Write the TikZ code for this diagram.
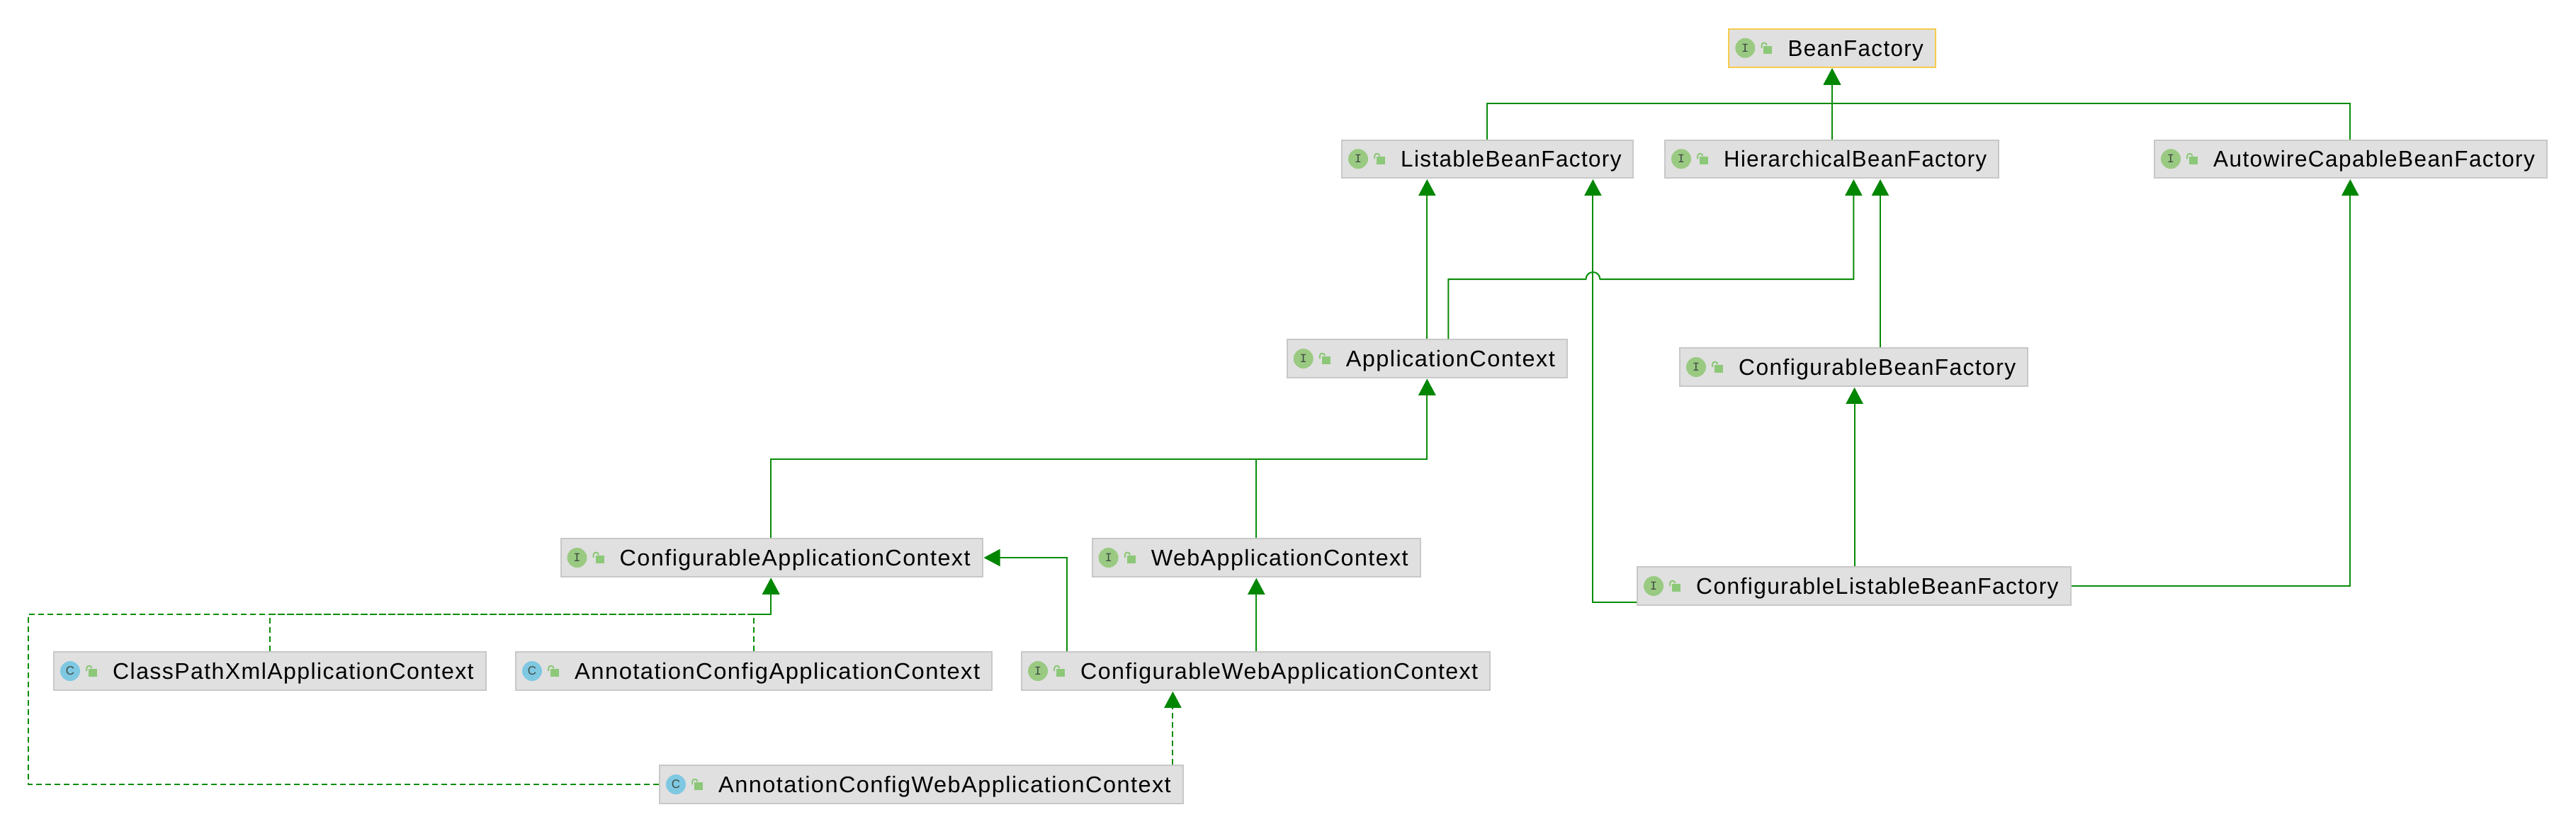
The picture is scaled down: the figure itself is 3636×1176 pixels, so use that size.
\documentclass[tikz,border=0pt]{standalone}
\usepackage{fontspec}
\usepackage{graphicx}
\setmainfont[LetterSpace=4.4]{Liberation Sans}
\newfontfamily\iconmono{Liberation Mono}
\newfontfamily\iconsans{Liberation Sans}
\usetikzlibrary{arrows.meta,calc}
\definecolor{boxfill}{HTML}{E0E0E0}
\definecolor{boxline}{HTML}{C8C8C8}
\definecolor{rootline}{HTML}{F7CB4D}
\definecolor{edge}{HTML}{088C08}
\definecolor{tipc}{HTML}{008600}
\definecolor{ifacec}{HTML}{9ACA82}
\definecolor{classc}{HTML}{7FC8E2}
\definecolor{lockc}{HTML}{8CC878}
\definecolor{glyphc}{HTML}{3F4A44}
\tikzset{
  umlbox/.style={draw=boxline,fill=boxfill,line width=2pt,rectangle,inner sep=0pt,anchor=north west,minimum height=53.5pt},
  umllabel/.style={anchor=base west,inner sep=0pt,font=\fontsize{32}{36}\selectfont,text=black},
  kindglyph/.style={inner sep=0pt,text=glyphc},
  inh/.style={draw=edge,line width=2pt,line join=miter,shorten >=1pt,
    -{Triangle[length=23pt,width=24pt,color=tipc]}},
  impl/.style={inh,dash pattern=on 8pt off 5pt},
}
% #1 extra box style, #2 name, #3 left, #4 top, #5 right, #6 circle colour, #7 text
\newcommand\umlnode[7][]{%
  \node[umlbox,minimum width=#5-#3-2,#1] (#2) at (#3,#4) {};
  \fill[#6] ([xshift=24pt]#2.west) circle[radius=14pt];
  \fill[lockc] ([shift={(50,-3)}]#2.west) rectangle ([shift={(62,8)}]#2.west);
  \draw[lockc,line width=2pt] ([shift={(47.2,0)}]#2.west) -- ([shift={(47.2,-4)}]#2.west)
     .. controls ([shift={(47.2,-8.5)}]#2.west) and ([shift={(54,-8.5)}]#2.west) .. ([shift={(54.5,-4)}]#2.west);
  \pgfmathsetlengthmacro\labw{#5-#3-102}
  \node[umllabel] (#2-label) at ([shift={(84,11.3)}]#2.west) {\resizebox{\labw}{\height}{#7}};
}
\begin{document}
\begin{tikzpicture}[x=1pt,y=-1pt]
\useasboundingbox (0,0) rectangle (3636,1176);
\fill[white] (0,0) rectangle (3636,1176);

\umlnode[draw=rootline]{bf}{2439.3}{40}{2732.7}{ifacec}{BeanFactory}
\umlnode{lbf}{1893}{196.5}{2306.4}{ifacec}{ListableBeanFactory}
\umlnode{hbf}{2349}{196.5}{2822}{ifacec}{HierarchicalBeanFactory}
\umlnode{acbf}{3040}{196.5}{3595.7}{ifacec}{AutowireCapableBeanFactory}
\umlnode{ac}{1815.7}{478.3}{2212.7}{ifacec}{ApplicationContext}
\umlnode{cbf}{2370}{490.3}{2863}{ifacec}{ConfigurableBeanFactory}
\umlnode{cac}{790.5}{759.3}{1387.5}{ifacec}{ConfigurableApplicationContext}
\umlnode{wac}{1540.6}{759.3}{2005.5}{ifacec}{WebApplicationContext}
\umlnode{clbf}{2310}{799.3}{2923.5}{ifacec}{ConfigurableListableBeanFactory}
\umlnode{cpx}{75}{919.3}{686.5}{classc}{ClassPathXmlApplicationContext}
\umlnode{acac}{727}{919.3}{1401}{classc}{AnnotationConfigApplicationContext}
\umlnode{cwac}{1441}{919.3}{2104}{ifacec}{ConfigurableWebApplicationContext}
\umlnode{acwac}{930}{1079.3}{1670.7}{classc}{AnnotationConfigWebApplicationContext}

\foreach \n in {bf,lbf,hbf,acbf,ac,cbf,cac,wac,clbf,cwac}{
  \node[kindglyph,font=\iconmono\fontsize{17}{17}\selectfont] (\n-kind) at ([xshift=24pt]\n.west) {I};
}
\foreach \n in {cpx,acac,acwac}{
  \node[kindglyph,font=\iconsans\fontsize{17}{17}\selectfont] (\n-kind) at ([xshift=24pt]\n.west) {C};
}

% columns and rows of the routed connectors
\coordinate (xlbfup) at (2099,0);
\coordinate (xbf) at (2586,0);
\coordinate (xacbf) at (3317.3,0);
\coordinate (xaclbf) at (2014.3,0);
\coordinate (xachbf) at (2044.3,0);
\coordinate (xhbfa) at (2616.4,0);
\coordinate (xhbfb) at (2654,0);
\coordinate (xclbf) at (2617.6,0);
\coordinate (xjump) at (2248.4,0);
\coordinate (xcac) at (1088.2,0);
\coordinate (xwac) at (1773.3,0);
\coordinate (xcwac) at (1505.5,0);
\coordinate (xcpx) at (381,0);
\coordinate (xacac) at (1063.7,0);
\coordinate (xdash) at (40,0);
\coordinate (xcwacin) at (1655.4,0);
\coordinate (ybus) at (0,146.3);
\coordinate (yach) at (0,394);
\coordinate (yctx) at (0,648.3);
\coordinate (ycac) at (0,867.3);
\coordinate (yclbf) at (0,850.3);

\draw[inh] (lbf.north -| xlbfup) -- (xlbfup |- ybus) -- (xbf |- ybus) -- (bf.south -| xbf);
\draw[inh] (hbf.north -| xbf) -- (bf.south -| xbf);
\draw[inh] (acbf.north -| xacbf) -- (xacbf |- ybus) -- (xbf |- ybus) -- (bf.south -| xbf);
\draw[inh] (ac.north -| xaclbf) -- (lbf.south -| xaclbf);
\draw[inh] (ac.north -| xachbf) -- (xachbf |- yach) -- ([xshift=-10pt]xjump |- yach)
   arc[start angle=180,end angle=0,radius=10pt] -- (xhbfa |- yach) -- (hbf.south -| xhbfa);
\draw[inh] (cbf.north -| xhbfb) -- (hbf.south -| xhbfb);
\draw[inh] (clbf.north -| xclbf) -- (cbf.south -| xclbf);
\draw[inh] (clbf.west |- yclbf) -- (xjump |- yclbf) -- (lbf.south -| xjump);
\draw[inh] (clbf.east) -- (xacbf |- clbf.east) -- (acbf.south -| xacbf);
\draw[inh] (cac.north -| xcac) -- (xcac |- yctx) -- (xaclbf |- yctx) -- (ac.south -| xaclbf);
\draw[inh] (wac.north -| xwac) -- (xwac |- yctx) -- (xaclbf |- yctx) -- (ac.south -| xaclbf);
\draw[inh] (cwac.north -| xwac) -- (wac.south -| xwac);
\draw[inh] (cwac.north -| xcwac) -- (xcwac |- cac.east) -- (cac.east);
\draw[impl] (cpx.north -| xcpx) -- (xcpx |- ycac) -- (xcac |- ycac) -- (cac.south -| xcac);
\draw[impl] (acac.north -| xacac) -- (xacac |- ycac) -- (xcac |- ycac) -- (cac.south -| xcac);
\draw[impl] (acwac.west) -- (xdash |- acwac.west) -- (xdash |- ycac) -- (xcac |- ycac) -- (cac.south -| xcac);
\draw[impl] (acwac.north -| xcwacin) -- (cwac.south -| xcwacin);
\end{tikzpicture}
\end{document}
